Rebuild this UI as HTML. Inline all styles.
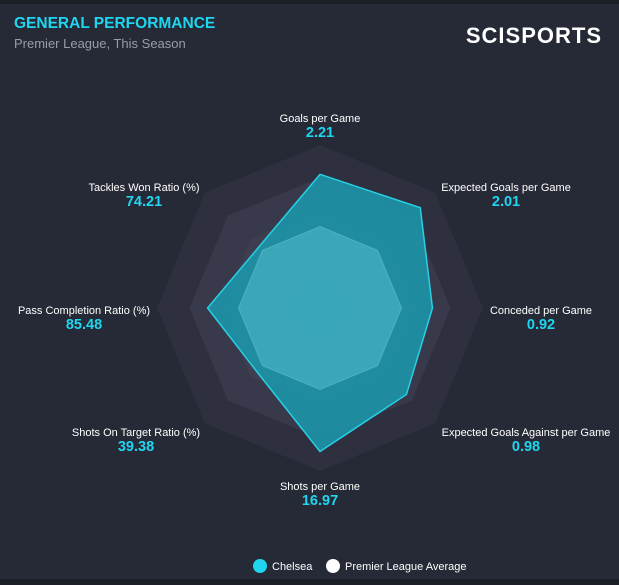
<!DOCTYPE html>
<html><head><meta charset="utf-8"><style>
body{margin:0;width:619px;height:585px;background:#262936;overflow:hidden;font-family:"Liberation Sans",sans-serif;}
svg{position:absolute;left:0;top:0}
</style></head><body>
<svg width="619" height="585">
<rect x="0" y="0" width="619" height="4" fill="#1c1f28"/>
<rect x="0" y="579" width="619" height="6" fill="#1c1f28"/>
<text x="14" y="28" fill="#1fd6f0" font-size="15.5" font-weight="bold">GENERAL PERFORMANCE</text>
<text x="14" y="48" fill="#9a9ca6" font-size="13">Premier League, This Season</text>
<text x="602" y="43" text-anchor="end" fill="#ffffff" font-size="22" font-weight="bold" letter-spacing="1">SCISPORTS</text>
<g id="rings"></g>
<g id="series"></g>
<g id="labels"></g>
<circle cx="260" cy="566" r="7" fill="#1fd6f0"/>
<text x="272" y="570" fill="#ffffff" font-size="11">Chelsea</text>
<circle cx="333" cy="566" r="7" fill="#ffffff"/>
<text x="345" y="570" fill="#ffffff" font-size="11">Premier League Average</text>
</svg>
<script>
const categories=["Goals per Game","Expected Goals per Game","Conceded per Game","Expected Goals Against per Game","Shots per Game","Shots On Target Ratio (%)","Pass Completion Ratio (%)","Tackles Won Ratio (%)"];
const displayValues=["2.21","2.01","0.92","0.98","16.97","39.38","85.48","74.21"];
const chelseaScores=[82,87,69,75,88,55,69,53];
const averageScores=[50,50,50,50,50,50,50,50];
const labelCenters=[[320,122],[506,191],[541,314],[526,436],[320,490],[136,436],[84,314],[144,191]];
const NS="http://www.w3.org/2000/svg";
const cx=320,cy=308,R=163,maxV=100;
function pt(i,v){const a=-Math.PI/2+i*Math.PI/4;const r=v/maxV*R;return [cx+r*Math.cos(a),cy+r*Math.sin(a)];}
function poly(vals){return vals.map((v,i)=>pt(i,v).join(",")).join(" ");}
const ringColors=["#2e3040","#383a4b","#3d3f51","#414457","#45495c"];
const rings=document.getElementById("rings");
[100,80,60,40,20].forEach((lv,k)=>{const p=document.createElementNS(NS,"polygon");
p.setAttribute("points",poly(categories.map(()=>lv)));p.setAttribute("fill",ringColors[k]);


rings.appendChild(p);});
const s=document.getElementById("series");
const c=document.createElementNS(NS,"polygon");
c.setAttribute("points",poly(chelseaScores));c.setAttribute("fill","#1a9aae");c.setAttribute("fill-opacity","0.85");c.setAttribute("stroke","#27d0e4");c.setAttribute("stroke-width","1.5");


s.appendChild(c);
const a=document.createElementNS(NS,"polygon");
a.setAttribute("points",poly(averageScores));a.setAttribute("fill","#5cc6d2");a.setAttribute("fill-opacity","0.45");a.setAttribute("stroke","#8adbe4");a.setAttribute("stroke-opacity","0.35");


s.appendChild(a);
const L=document.getElementById("labels");
categories.forEach((cat,i)=>{const [x,y]=labelCenters[i];
const t=document.createElementNS(NS,"text");t.setAttribute("x",x);t.setAttribute("y",y);t.setAttribute("text-anchor","middle");t.setAttribute("fill","#ffffff");t.setAttribute("font-size","11");t.textContent=cat;


L.appendChild(t);
const v=document.createElementNS(NS,"text");v.setAttribute("x",x);v.setAttribute("y",y+15);v.setAttribute("text-anchor","middle");v.setAttribute("fill","#1fd6f0");v.setAttribute("font-size","14.5");v.setAttribute("font-weight","bold");v.textContent=displayValues[i];


L.appendChild(v);});
</script>
</body></html>
